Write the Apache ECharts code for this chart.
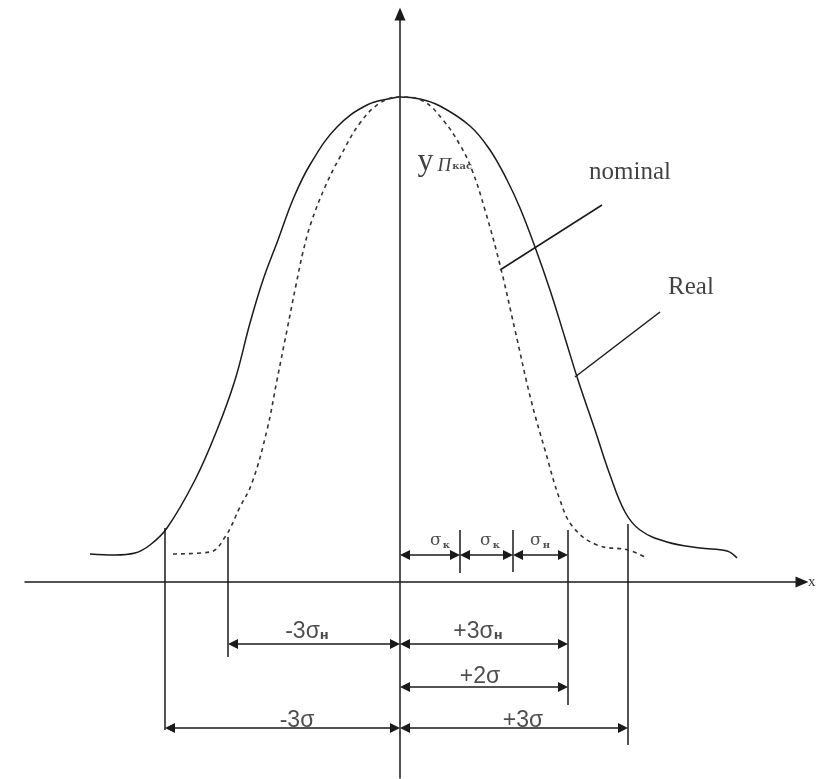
<!DOCTYPE html>
<html>
<head>
<meta charset="utf-8">
<script src="https://cdn.jsdelivr.net/npm/echarts@6/dist/echarts.min.js"></script>
<style>
html, body { margin: 0; background: #fff; }
#chart { width: 827px; height: 779px; }
</style>
</head>
<body>
<div id="chart"></div>
<script>
// x = distance from the y axis, y = height above the x axis
var realCurve = [
    [-310, 28], [-285, 27], [-265, 29], [-250, 37], [-233, 54], [-205, 102], [-183, 152],
    [-165, 202], [-150, 259], [-137, 302], [-122, 342], [-106, 385], [-89, 419], [-63, 455],
    [-33, 477], [-7, 484], [0, 485], [20, 483], [40, 476], [70, 456], [90, 432], [107, 402],
    [120, 374], [135, 335], [150, 292], [165, 244], [178, 202], [195, 152], [210, 107],
    [225, 70], [240, 52], [267, 40], [300, 34], [327, 31], [337, 24]
];
var nominalCurve = [
    [-227, 28], [-190, 30], [-175, 45], [-160, 75], [-148, 99], [-133, 152], [-123, 202],
    [-113, 252], [-104, 297], [-97, 330], [-89, 359], [-75, 395], [-60, 425], [-40, 459],
    [-20, 479], [0, 485], [23, 481], [43, 462], [60, 437], [72, 412], [85, 372], [100, 317],
    [115, 252], [131, 182], [145, 132], [160, 82], [173, 55], [197, 37], [228, 32], [247, 24]
];

// dimension arrows: [from x, to x, y]
var dimArrows = [
    [0, 60, 27], [60, 113, 27], [113, 168, 27],
    [-172, 0, -62], [0, 168, -62],
    [0, 168, -105],
    [-235, 0, -146], [0, 228, -146]
];
// extension lines: [x, top y, bottom y]
var extLines = [
    [-235, 54, -148], [-172, 45, -75], [168, 52, -123], [228, 58, -163],
    [60, 52, 9], [113, 52, 10]
];
// leader lines from the curves to the names: [x1, y1, x2, y2]
var leaders = [
    [100, 312, 202, 377],
    [175, 205, 260, 270]
];

// dimension labels and where they sit
var dimLabels = ['{s|σ}{k|к}', '{s|σ}{k|к}', '{s|σ}{k|н}',
    '-3σ{n|н}', '+3σ{n|н}', '+2σ', '-3σ', '+3σ'];
var dimLabelPos = [[40, 41], [90, 41], [140, 41],
    [-93, -50], [78, -50], [80, -95], [-103, -139], [123, -139]];

var curveNames = ['nominal', 'Real'];
var curveNamePos = [[230, 410], [291, 295]];

var myChart = echarts.init(document.getElementById('chart'));

var segData = [];
extLines.forEach(function (e) {
    segData.push({ coords: [[e[0], e[1]], [e[0], e[2]]] });
});
leaders.forEach(function (l) {
    segData.push({ coords: [[l[0], l[1]], [l[2], l[3]]] });
});

// arrowheads are centred on the line ends, pull them in so the tips touch
var tipInset = 5;
var arrowData = dimArrows.map(function (a) {
    return { coords: [[a[0] + tipInset, a[2]], [a[1] - tipInset, a[2]]] };
});

var labelData = [];
dimLabels.forEach(function (t, i) {
    labelData.push({
        value: dimLabelPos[i],
        label: { formatter: t }
    });
});
curveNames.forEach(function (t, i) {
    labelData.push({
        value: curveNamePos[i],
        label: {
            formatter: t,
            fontFamily: 'Liberation Serif',
            fontSize: 25,
            color: '#111'
        }
    });
});
labelData.push({
    value: [17, 420],
    label: {
        position: 'right',
        distance: 0,
        formatter: '{y|у}{p|П}{k|кас}'
    }
});

var lineColor = '#1a1a1a';

option = {
    animation: false,
    backgroundColor: '#fff',
    grid: { left: 25, right: 25, top: 14, bottom: 1 },
    xAxis: {
        type: 'value',
        min: -375,
        max: 402,
        name: 'x',
        nameLocation: 'end',
        nameGap: 6,
        nameTextStyle: { fontFamily: 'Liberation Serif', fontSize: 15, color: '#333' },
        axisLine: {
            onZero: true,
            symbol: ['none', 'triangle'],
            symbolSize: [11, 13],
            lineStyle: { color: lineColor, width: 1.5 }
        },
        axisTick: { show: false },
        axisLabel: { show: false },
        splitLine: { show: false }
    },
    yAxis: {
        type: 'value',
        min: -196,
        max: 568,
        axisLine: {
            onZero: true,
            symbol: ['none', 'triangle'],
            symbolSize: [11, 13],
            lineStyle: { color: lineColor, width: 1.5 }
        },
        axisTick: { show: false },
        axisLabel: { show: false },
        splitLine: { show: false }
    },
    series: [
        {
            name: 'Real',
            type: 'line',
            data: realCurve,
            smooth: 0.4,
            showSymbol: false,
            lineStyle: { color: lineColor, width: 1.5 }
        },
        {
            name: 'nominal',
            type: 'line',
            data: nominalCurve,
            smooth: 0.4,
            showSymbol: false,
            lineStyle: { color: '#333', width: 1.6, type: [4, 4] }
        },
        {
            type: 'lines',
            coordinateSystem: 'cartesian2d',
            data: segData,
            symbol: 'none',
            lineStyle: { color: lineColor, width: 1.5, opacity: 1 }
        },
        {
            type: 'lines',
            coordinateSystem: 'cartesian2d',
            data: arrowData,
            symbol: ['triangle', 'triangle'],
            symbolSize: 10,
            lineStyle: { color: lineColor, width: 1.5, opacity: 1 }
        },
        {
            type: 'scatter',
            data: labelData,
            symbolSize: 1,
            itemStyle: { color: 'rgba(0,0,0,0)' },
            label: {
                show: true,
                position: 'inside',
                color: '#222',
                fontFamily: 'Liberation Sans',
                fontSize: 23,
                rich: {
                    s: { fontFamily: 'DejaVu Serif', fontSize: 17, color: '#222' },
                    k: { fontFamily: 'DejaVu Serif', fontSize: 10, fontWeight: 'bold', color: '#222', padding: [8, 0, 0, 1] },
                    n: { fontFamily: 'DejaVu Sans', fontSize: 13, fontWeight: 'bold', color: '#222', padding: [8, 0, 0, 0] },
                    y: { fontFamily: 'Liberation Serif', fontSize: 32, color: '#111' },
                    p: { fontFamily: 'Liberation Serif', fontStyle: 'italic', fontSize: 19, color: '#111', padding: [8, 0, 0, 4] }
                }
            }
        }
    ]
};
myChart.setOption(option);
</script>
</body>
</html>
